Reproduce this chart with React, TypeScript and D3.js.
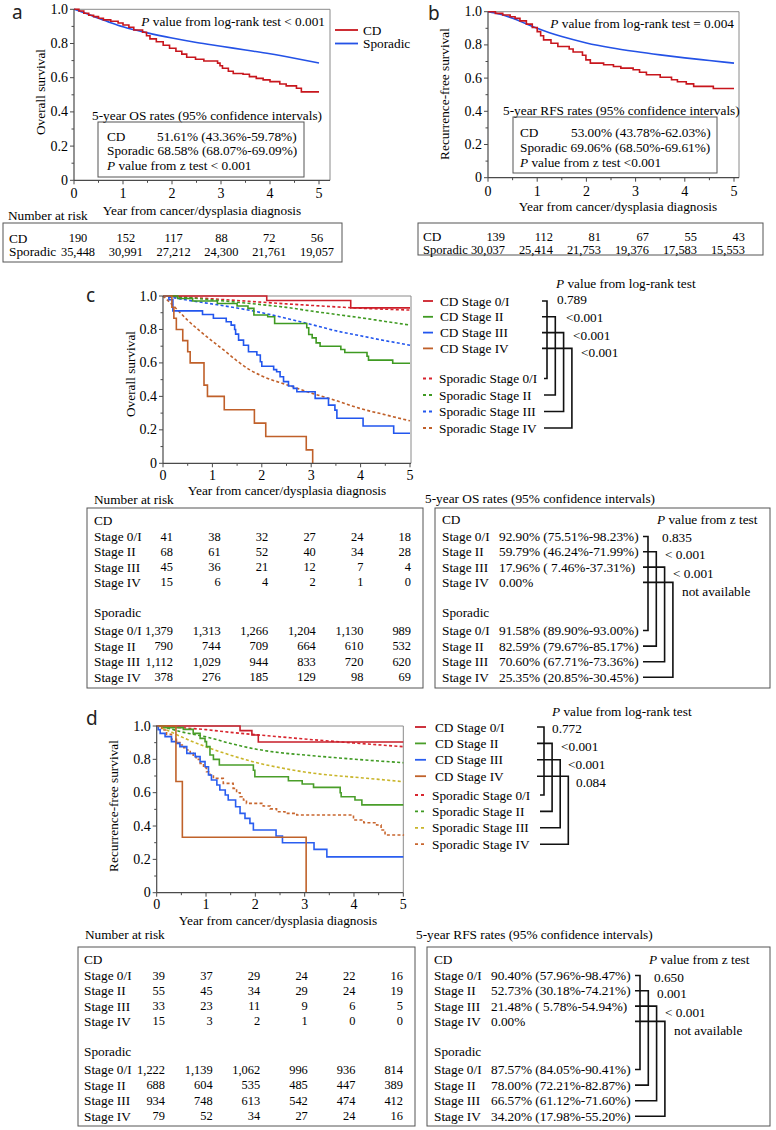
import React from 'react';
import * as d3 from 'd3';

type Pt = [number, number];

// ---------------- axis values ----------------
const years = [0, 1, 2, 3, 4, 5];
const survTicks = [0, 0.2, 0.4, 0.6, 0.8, 1.0];
const survTickLabels = ['0', '0.2', '0.4', '0.6', '0.8', '1.0'];

// ---------------- panel a (overall survival) ----------------
const aCd: Pt[] = [[0, 1], [0.1, 0.99], [0.2, 0.977], [0.3, 0.965], [0.4, 0.957], [0.5, 0.948], [0.6, 0.938], [0.75, 0.93], [0.9, 0.92], [1.0, 0.908], [1.12, 0.895], [1.22, 0.879], [1.4, 0.866], [1.48, 0.845], [1.55, 0.827], [1.68, 0.81], [1.82, 0.79], [1.95, 0.772], [2.08, 0.755], [2.2, 0.738], [2.3, 0.72], [2.48, 0.708], [2.65, 0.698], [2.93, 0.685], [2.98, 0.67], [3.03, 0.655], [3.15, 0.638], [3.25, 0.625], [3.45, 0.62], [3.58, 0.606], [3.72, 0.596], [3.86, 0.587], [4.0, 0.577], [4.2, 0.563], [4.33, 0.552], [4.54, 0.538], [4.64, 0.517], [5, 0.517]];
const aSporadic: Pt[] = [[0, 1], [0.25, 0.975], [0.5, 0.948], [0.75, 0.922], [1, 0.898], [1.5, 0.862], [2, 0.832], [2.5, 0.806], [3, 0.784], [3.5, 0.762], [4, 0.74], [4.5, 0.714], [5, 0.686]];
const aRiskCd = ['190', '152', '117', '88', '72', '56'];
const aRiskSporadic = ['35,448', '30,991', '27,212', '24,300', '21,761', '19,057'];

// ---------------- panel b (recurrence-free survival) ----------------
const bCd: Pt[] = [[0, 1], [0.15, 0.99], [0.3, 0.98], [0.45, 0.97], [0.55, 0.96], [0.65, 0.945], [0.78, 0.925], [0.9, 0.905], [1.0, 0.88], [1.07, 0.855], [1.13, 0.83], [1.28, 0.81], [1.42, 0.79], [1.65, 0.775], [1.73, 0.757], [1.92, 0.738], [1.99, 0.71], [2.08, 0.69], [2.35, 0.68], [2.55, 0.67], [2.7, 0.66], [2.95, 0.65], [3.08, 0.635], [3.22, 0.62], [3.5, 0.605], [3.73, 0.59], [3.85, 0.578], [4.03, 0.565], [4.18, 0.55], [4.58, 0.537], [5, 0.537]];
const bSporadic: Pt[] = [[0, 1], [0.25, 0.985], [0.5, 0.96], [0.75, 0.93], [1, 0.9], [1.25, 0.873], [1.5, 0.85], [2, 0.812], [2.5, 0.783], [3, 0.76], [3.5, 0.74], [4, 0.722], [4.5, 0.706], [5, 0.69]];
const bRiskCd = ['139', '112', '81', '67', '55', '43'];
const bRiskSporadic = ['30,037', '25,414', '21,753', '19,376', '17,583', '15,553'];

// ---------------- panel c (OS by stage) ----------------
const cCd0: Pt[] = [[0, 1], [2.1, 0.973], [3.8, 0.929], [5, 0.929]];
const cCd2: Pt[] = [[0, 1], [0.3, 0.985], [0.6, 0.97], [1.1, 0.955], [1.5, 0.94], [1.72, 0.926], [1.84, 0.886], [2.12, 0.876], [2.26, 0.836], [2.91, 0.81], [2.95, 0.77], [3.02, 0.75], [3.1, 0.72], [3.18, 0.7], [3.6, 0.68], [3.68, 0.662], [4.13, 0.64], [4.16, 0.617], [4.65, 0.598], [5, 0.598]];
const cCd3: Pt[] = [[0, 1], [0.12, 0.978], [0.2, 0.911], [0.8, 0.889], [1.02, 0.867], [1.28, 0.846], [1.38, 0.826], [1.45, 0.8], [1.47, 0.772], [1.53, 0.736], [1.63, 0.706], [1.73, 0.667], [1.9, 0.647], [1.97, 0.607], [2.0, 0.58], [2.24, 0.56], [2.3, 0.547], [2.37, 0.517], [2.44, 0.488], [2.54, 0.462], [2.64, 0.448], [2.71, 0.428], [3.08, 0.388], [3.35, 0.348], [3.48, 0.318], [3.52, 0.269], [4.05, 0.223], [4.67, 0.18], [5, 0.18]];
const cCd4: Pt[] = [[0, 1], [0.18, 0.933], [0.22, 0.867], [0.27, 0.8], [0.4, 0.733], [0.5, 0.667], [0.55, 0.6], [0.83, 0.467], [0.9, 0.4], [1.24, 0.32], [1.85, 0.24], [2.08, 0.16], [2.9, 0.08], [3.03, 0]];
const cSp0: Pt[] = [[0, 1], [0.5, 0.992], [1, 0.983], [1.5, 0.973], [2, 0.963], [2.5, 0.953], [3, 0.944], [3.5, 0.935], [4, 0.927], [4.5, 0.921], [5, 0.916]];
const cSp2: Pt[] = [[0, 1], [0.5, 0.99], [1, 0.977], [1.5, 0.963], [2, 0.948], [2.5, 0.932], [3, 0.91], [3.5, 0.89], [4, 0.87], [4.5, 0.848], [5, 0.826]];
const cSp3: Pt[] = [[0, 1], [0.5, 0.975], [1, 0.952], [1.5, 0.928], [2, 0.9], [2.5, 0.866], [3, 0.83], [3.5, 0.792], [4, 0.762], [4.5, 0.733], [5, 0.706]];
const cSp4: Pt[] = [[0, 1], [0.25, 0.93], [0.5, 0.855], [0.75, 0.79], [1, 0.73], [1.25, 0.672], [1.5, 0.612], [1.75, 0.56], [2, 0.522], [2.5, 0.47], [3, 0.42], [3.5, 0.375], [4, 0.327], [4.5, 0.29], [5, 0.254]];

const stages = ['Stage 0/I', 'Stage II', 'Stage III', 'Stage IV'];
const cRiskCd = [['41', '38', '32', '27', '24', '18'], ['68', '61', '52', '40', '34', '28'], ['45', '36', '21', '12', '7', '4'], ['15', '6', '4', '2', '1', '0']];
const cRiskSp = [['1,379', '1,313', '1,266', '1,204', '1,130', '989'], ['790', '744', '709', '664', '610', '532'], ['1,112', '1,029', '944', '833', '720', '620'], ['378', '276', '185', '129', '98', '69']];
const cRatesCd = ['92.90% (75.51%-98.23%)', '59.79% (46.24%-71.99%)', '17.96% ( 7.46%-37.31%)', '0.00%'];
const cRatesSp = ['91.58% (89.90%-93.00%)', '82.59% (79.67%-85.17%)', '70.60% (67.71%-73.36%)', '25.35% (20.85%-30.45%)'];
const cLogRankP = ['0.789', '<0.001', '<0.001', '<0.001'];
const cZP = ['0.835', '< 0.001', '< 0.001', 'not available'];

// ---------------- panel d (RFS by stage) ----------------
const dCd0: Pt[] = [[0, 1], [1.69, 0.972], [1.93, 0.946], [2.06, 0.904], [5, 0.904]];
const dCd2: Pt[] = [[0, 1], [0.17, 0.99], [0.54, 0.98], [0.74, 0.956], [0.88, 0.926], [0.98, 0.906], [1.01, 0.876], [1.08, 0.826], [1.15, 0.8], [1.27, 0.766], [1.96, 0.735], [1.99, 0.696], [2.67, 0.672], [2.95, 0.652], [3.18, 0.632], [3.72, 0.6], [3.74, 0.576], [4.02, 0.556], [4.16, 0.527], [5, 0.527]];
const dCd3: Pt[] = [[0, 1], [0.03, 0.978], [0.07, 0.956], [0.17, 0.936], [0.3, 0.906], [0.4, 0.896], [0.47, 0.876], [0.61, 0.836], [0.78, 0.816], [0.88, 0.786], [0.98, 0.756], [1.05, 0.706], [1.11, 0.676], [1.22, 0.646], [1.28, 0.616], [1.39, 0.586], [1.45, 0.556], [1.6, 0.516], [1.69, 0.476], [1.79, 0.446], [1.89, 0.416], [1.96, 0.376], [2.42, 0.34], [2.55, 0.3], [3.19, 0.26], [3.45, 0.215], [5, 0.215]];
const dCd4: Pt[] = [[0, 1], [0.39, 0.667], [0.52, 0.333], [3.03, 0]];
const dSp0: Pt[] = [[0, 1], [0.5, 0.99], [1, 0.978], [1.5, 0.962], [2, 0.948], [2.5, 0.935], [3, 0.922], [3.5, 0.91], [4, 0.898], [4.5, 0.887], [5, 0.876]];
const dSp2: Pt[] = [[0, 1], [0.25, 0.985], [0.5, 0.965], [1, 0.935], [1.5, 0.895], [2, 0.862], [2.5, 0.84], [3, 0.826], [3.5, 0.813], [4, 0.801], [4.5, 0.79], [5, 0.78]];
const dSp3: Pt[] = [[0, 1], [0.25, 0.97], [0.5, 0.935], [1, 0.875], [1.5, 0.825], [2, 0.782], [2.5, 0.75], [3, 0.724], [3.5, 0.706], [4, 0.693], [4.5, 0.68], [5, 0.666]];
const dSp4: Pt[] = [[0, 1], [0.1, 0.976], [0.2, 0.95], [0.3, 0.92], [0.4, 0.9], [0.47, 0.886], [0.55, 0.87], [0.61, 0.856], [0.68, 0.836], [0.74, 0.816], [0.8, 0.8], [0.88, 0.776], [0.95, 0.75], [1.01, 0.726], [1.08, 0.706], [1.15, 0.686], [1.35, 0.656], [1.55, 0.626], [1.62, 0.6], [1.69, 0.576], [1.76, 0.556], [1.82, 0.536], [2.16, 0.52], [2.3, 0.503], [2.43, 0.486], [2.6, 0.476], [2.84, 0.466], [3.99, 0.436], [4.2, 0.42], [4.46, 0.406], [4.55, 0.376], [4.63, 0.346], [5, 0.342]];

const dRiskCd = [['39', '37', '29', '24', '22', '16'], ['55', '45', '34', '29', '24', '19'], ['33', '23', '11', '9', '6', '5'], ['15', '3', '2', '1', '0', '0']];
const dRiskSp = [['1,222', '1,139', '1,062', '996', '936', '814'], ['688', '604', '535', '485', '447', '389'], ['934', '748', '613', '542', '474', '412'], ['79', '52', '34', '27', '24', '16']];
const dRatesCd = ['90.40% (57.96%-98.47%)', '52.73% (30.18%-74.21%)', '21.48% ( 5.78%-54.94%)', '0.00%'];
const dRatesSp = ['87.57% (84.05%-90.41%)', '78.00% (72.21%-82.87%)', '66.57% (61.12%-71.60%)', '34.20% (17.98%-55.20%)'];
const dLogRankP = ['0.772', '<0.001', '<0.001', '0.084'];
const dZP = ['0.650', '0.001', '< 0.001', 'not available'];

// ---------------- styles ----------------
const FONT = '"Liberation Serif", "Times New Roman", Times, serif';
const SANS = '"Noto Sans", "DejaVu Sans", sans-serif';
const FS = 13.3;
const TICKFS = 14;
const NUMFS = 12.4;
const RED = '#c8161d';
const BLUE = '#2452e6';
const cCdColors = ['#cc1f2a', '#3f9a22', '#2256ee', '#c0602a'];
const cSpColors = ['#d8232d', '#3f9a22', '#2256ee', '#c0602a'];
const dCdColors = ['#c81e2a', '#4a9e2a', '#2a5ef0', '#c0622a'];
const dSpColors = ['#d8262f', '#3f9a22', '#c9b52a', '#c8662e'];
const AX = '#4a4a4a';

interface Curve { data: Pt[]; color: string; dashed?: boolean; smooth?: boolean; }

interface PlotProps {
  x0: number; x5: number; xEnd: number; yBot: number; yTop: number;
  curves: Curve[]; yTitle: string; yTitleX: number; yTitleY: number;
  xTitleX: number; xTitleY: number; xLabelDy: number;
}

function KMPlot(p: PlotProps) {
  const x = d3.scaleLinear().domain([0, 5]).range([p.x0, p.x5]);
  const y = d3.scaleLinear().domain([0, 1]).range([p.yBot, p.yTop]);
  const step = d3.line<Pt>().x(d => x(d[0])).y(d => y(d[1])).curve(d3.curveStepAfter);
  const smooth = d3.line<Pt>().x(d => x(d[0])).y(d => y(d[1])).curve(d3.curveMonotoneX);
  const minorX = [0.5, 1.5, 2.5, 3.5, 4.5];
  const minorY = [0.1, 0.3, 0.5, 0.7, 0.9];
  return (
    <g>
      <path d={`M${p.x0},${p.yTop}H${p.xEnd}V${p.yBot}`} fill="none" stroke="#8a8a8a" strokeWidth={1} />
      {p.curves.map((c, i) => (
        <path key={i} d={(c.smooth ? smooth : step)(c.data) || ''} fill="none" stroke={c.color}
          strokeWidth={1.6} strokeDasharray={c.dashed ? '3,2.3' : undefined} />
      ))}
      <line x1={p.x0} x2={p.xEnd} y1={p.yBot} y2={p.yBot} stroke={AX} strokeWidth={1.2} />
      <line x1={p.x0} x2={p.x0} y1={p.yTop} y2={p.yBot} stroke={AX} strokeWidth={1.2} />
      {years.map(t => <line key={'xt' + t} x1={x(t)} x2={x(t)} y1={p.yBot} y2={p.yBot + 4} stroke={AX} />)}
      {minorX.map(t => <line key={'xm' + t} x1={x(t)} x2={x(t)} y1={p.yBot} y2={p.yBot + 2.5} stroke={AX} />)}
      {survTicks.map(v => <line key={'yt' + v} x1={p.x0 - 4} x2={p.x0} y1={y(v)} y2={y(v)} stroke={AX} />)}
      {minorY.map(v => <line key={'ym' + v} x1={p.x0 - 2.5} x2={p.x0} y1={y(v)} y2={y(v)} stroke={AX} />)}
      {years.map(t => (
        <text key={'xl' + t} x={x(t)} y={p.yBot + p.xLabelDy} fontSize={TICKFS} textAnchor="middle" dominantBaseline="central">{t}</text>
      ))}
      {survTicks.map((v, i) => (
        <text key={'yl' + v} x={p.x0 - 6} y={y(v)} fontSize={TICKFS} textAnchor="end" dominantBaseline="central">{survTickLabels[i]}</text>
      ))}
      <text transform={`translate(${p.yTitleX},${p.yTitleY}) rotate(-90)`} textAnchor="middle" dominantBaseline="central">{p.yTitle}</text>
      <text x={p.xTitleX} y={p.xTitleY} textAnchor="middle" dominantBaseline="central">Year from cancer/dysplasia diagnosis</text>
    </g>
  );
}

interface LegendProps {
  titleX: number; titleY: number; markX: number; markLen: number; cdTextX: number; spTextX: number;
  cdY0: number; cdStep: number; spY0: number; spStep: number;
  cdColors: string[]; spColors: string[]; vx0: number; vStep: number; cdHStart: number; spHStart: number;
  pX: number[]; pY: number[]; pvals: string[];
}

function StageLegend(p: LegendProps) {
  const cdY = stages.map((_, i) => p.cdY0 + i * p.cdStep);
  const spY = stages.map((_, i) => p.spY0 + i * p.spStep);
  const vx = stages.map((_, i) => p.vx0 + i * p.vStep);
  return (
    <g>
      <text x={p.titleX} y={p.titleY} dominantBaseline="central"><tspan fontStyle="italic">P</tspan> value from log-rank test</text>
      {stages.map((s, i) => (
        <g key={s}>
          <line x1={p.markX} x2={p.markX + p.markLen} y1={cdY[i]} y2={cdY[i]} stroke={p.cdColors[i]} strokeWidth={1.8} />
          <text x={p.cdTextX} y={cdY[i]} dominantBaseline="central">CD {s}</text>
          <line x1={p.markX} x2={p.markX + p.markLen} y1={spY[i]} y2={spY[i]} stroke={p.spColors[i]} strokeWidth={1.8} strokeDasharray="3,3" />
          <text x={p.spTextX} y={spY[i]} dominantBaseline="central">Sporadic {s}</text>
          <path d={`M${p.cdHStart},${cdY[i]}H${vx[i]}V${spY[i]}H${p.spHStart}`} fill="none" stroke="#111" strokeWidth={1.6} />
          <text x={p.pX[i]} y={p.pY[i]} dominantBaseline="central">{p.pvals[i]}</text>
        </g>
      ))}
    </g>
  );
}

interface RiskProps {
  box: [number, number, number, number]; textX: number; colRange: [number, number];
  headerY: number; cdY0: number; cdStep: number; spHeaderY: number; spY0: number; spStep: number;
  cd: string[][]; sp: string[][];
}

function StageRiskTable(p: RiskProps) {
  const col = d3.scaleLinear().domain([0, 5]).range(p.colRange);
  const [l, t, r, b] = p.box;
  return (
    <g>
      <rect x={l} y={t} width={r - l} height={b - t} fill="none" stroke="#555" strokeWidth={1} />
      <text x={p.textX} y={p.headerY} dominantBaseline="central">CD</text>
      <text x={p.textX} y={p.spHeaderY} dominantBaseline="central">Sporadic</text>
      {stages.map((s, i) => {
        const yc = p.cdY0 + i * p.cdStep;
        const ys = p.spY0 + i * p.spStep;
        return (
          <g key={s}>
            <text x={p.textX} y={yc} dominantBaseline="central">{s}</text>
            <text x={p.textX} y={ys} dominantBaseline="central">{s}</text>
            {years.map(k => <text key={'c' + k} x={col(k)} y={yc} fontSize={NUMFS} textAnchor="end" dominantBaseline="central">{p.cd[i][k]}</text>)}
            {years.map(k => <text key={'s' + k} x={col(k)} y={ys} fontSize={NUMFS} textAnchor="end" dominantBaseline="central">{p.sp[i][k]}</text>)}
          </g>
        );
      })}
    </g>
  );
}

interface RateProps {
  box: [number, number, number, number]; textX: number; valX: number; pHeadX: number;
  headerY: number; cdY0: number; cdStep: number; spHeaderY: number; spY0: number; spStep: number;
  cd: string[]; sp: string[]; hStart: number; vx0: number; vStep: number; pX: number[]; pY: number[]; pvals: string[];
}

function StageRateTable(p: RateProps) {
  const [l, t, r, b] = p.box;
  return (
    <g>
      <rect x={l} y={t} width={r - l} height={b - t} fill="none" stroke="#555" strokeWidth={1} />
      <text x={p.textX} y={p.headerY} dominantBaseline="central">CD</text>
      <text x={p.pHeadX} y={p.headerY} dominantBaseline="central"><tspan fontStyle="italic">P</tspan> value from z test</text>
      <text x={p.textX} y={p.spHeaderY} dominantBaseline="central">Sporadic</text>
      {stages.map((s, i) => {
        const yc = p.cdY0 + i * p.cdStep;
        const ys = p.spY0 + i * p.spStep;
        const vx = p.vx0 + i * p.vStep;
        return (
          <g key={s}>
            <text x={p.textX} y={yc} dominantBaseline="central">{s}</text>
            <text x={p.valX} y={yc} dominantBaseline="central">{p.cd[i]}</text>
            <text x={p.textX} y={ys} dominantBaseline="central">{s}</text>
            <text x={p.valX} y={ys} dominantBaseline="central">{p.sp[i]}</text>
            <path d={`M${p.hStart},${yc}H${vx}V${ys}H${p.hStart}`} fill="none" stroke="#111" strokeWidth={1.6} />
            <text x={p.pX[i]} y={p.pY[i]} dominantBaseline="central">{p.pvals[i]}</text>
          </g>
        );
      })}
    </g>
  );
}

export default function App() {
  const aCol = d3.scaleLinear().domain([0, 5]).range([78, 317]);
  const bCol = d3.scaleLinear().domain([0, 5]).range([505, 745]);
  return (
    <svg width={776} height={1130} viewBox="0 0 776 1130"
      style={{ position: 'absolute', left: 0, top: 0, background: '#fff', fontFamily: FONT, fontSize: FS, whiteSpace: 'pre' }}>
      <rect x={0} y={0} width={776} height={1130} fill="#fff" />

      {/* ---------------- panel a ---------------- */}
      <text x={12} y={19} fontFamily={SANS} fontSize={19} fill="#222">a</text>
      <KMPlot x0={74} x5={319} xEnd={330} yBot={180.3} yTop={9.3}
        curves={[{ data: aSporadic, color: BLUE, smooth: true }, { data: aCd, color: RED }]}
        yTitle="Overall survival" yTitleX={40} yTitleY={92} xTitleX={202} xTitleY={210} xLabelDy={13} />
      <text x={325} y={21} textAnchor="end" dominantBaseline="central"><tspan fontStyle="italic">P</tspan> value from log-rank test &lt; 0.001</text>
      <line x1={335} x2={358} y1={30} y2={30} stroke={RED} strokeWidth={1.8} />
      <text x={363} y={30} dominantBaseline="central">CD</text>
      <line x1={335} x2={358} y1={43.5} y2={43.5} stroke={BLUE} strokeWidth={1.8} />
      <text x={363} y={43.5} dominantBaseline="central">Sporadic</text>
      <text x={92} y={115} dominantBaseline="central">5-year OS rates (95% confidence intervals)</text>
      <rect x={98} y={122} width={206} height={55} fill="none" stroke="#555" />
      <text x={107} y={136} dominantBaseline="central">CD</text>
      <text x={157} y={136} dominantBaseline="central">51.61% (43.36%-59.78%)</text>
      <text x={107} y={150.5} dominantBaseline="central">Sporadic 68.58% (68.07%-69.09%)</text>
      <text x={107} y={165} dominantBaseline="central"><tspan fontStyle="italic">P</tspan> value from z test &lt; 0.001</text>
      <text x={8} y={215} dominantBaseline="central">Number at risk</text>
      <rect x={3} y={223} width={339} height={39} fill="none" stroke="#555" />
      <text x={9} y={238} dominantBaseline="central">CD</text>
      <text x={9} y={251.5} dominantBaseline="central">Sporadic</text>
      {years.map(k => <text key={'ac' + k} x={aCol(k)} y={238} fontSize={NUMFS} textAnchor="middle" dominantBaseline="central">{aRiskCd[k]}</text>)}
      {years.map(k => <text key={'as' + k} x={aCol(k)} y={251.5} fontSize={NUMFS} textAnchor="middle" dominantBaseline="central">{aRiskSporadic[k]}</text>)}

      {/* ---------------- panel b ---------------- */}
      <text x={428} y={20} fontFamily={SANS} fontSize={19} fill="#222">b</text>
      <KMPlot x0={488} x5={734} xEnd={739} yBot={177.7} yTop={11.7}
        curves={[{ data: bSporadic, color: BLUE, smooth: true }, { data: bCd, color: RED }]}
        yTitle="Recurrence-free survival" yTitleX={444} yTitleY={94} xTitleX={618} xTitleY={206} xLabelDy={14} />
      <text x={734} y={23} textAnchor="end" dominantBaseline="central"><tspan fontStyle="italic">P</tspan> value from log-rank test = 0.004</text>
      <text x={503} y={110} dominantBaseline="central">5-year RFS rates (95% confidence intervals)</text>
      <rect x={513} y={117} width={204} height={56} fill="none" stroke="#555" />
      <text x={520} y={132} dominantBaseline="central">CD</text>
      <text x={571} y={132} dominantBaseline="central">53.00% (43.78%-62.03%)</text>
      <text x={520} y={147} dominantBaseline="central">Sporadic 69.06% (68.50%-69.61%)</text>
      <text x={520} y={162} dominantBaseline="central"><tspan fontStyle="italic">P</tspan> value from z test  &lt;0.001</text>
      <rect x={418} y={223} width={345} height={32} fill="none" stroke="#555" />
      <text x={423} y={236.7} dominantBaseline="central">CD</text>
      <text x={423} y={250} fontSize={12.6} dominantBaseline="central">Sporadic</text>
      {years.map(k => <text key={'bc' + k} x={bCol(k)} y={236.7} fontSize={NUMFS} textAnchor="end" dominantBaseline="central">{bRiskCd[k]}</text>)}
      {years.map(k => <text key={'bs' + k} x={bCol(k)} y={250} fontSize={NUMFS} textAnchor="end" dominantBaseline="central">{bRiskSporadic[k]}</text>)}

      {/* ---------------- panel c ---------------- */}
      <text x={86} y={302} fontFamily={SANS} fontSize={19} fill="#222">c</text>
      <KMPlot x0={163} x5={410} xEnd={411} yBot={463.3} yTop={296}
        curves={[
          { data: cSp0, color: cSpColors[0], dashed: true, smooth: true },
          { data: cSp2, color: cSpColors[1], dashed: true, smooth: true },
          { data: cSp3, color: cSpColors[2], dashed: true, smooth: true },
          { data: cSp4, color: cSpColors[3], dashed: true, smooth: true },
          { data: cCd0, color: cCdColors[0] },
          { data: cCd2, color: cCdColors[1] },
          { data: cCd3, color: cCdColors[2] },
          { data: cCd4, color: cCdColors[3] },
        ]}
        yTitle="Overall survival" yTitleX={130} yTitleY={374} xTitleX={287} xTitleY={490} xLabelDy={12} />
      <StageLegend titleX={556} titleY={283} markX={423} markLen={10} cdTextX={440} spTextX={439}
        cdY0={301} cdStep={15.8} spY0={378.5} spStep={16.5} cdColors={cCdColors} spColors={cSpColors}
        vx0={547} vStep={8.3} cdHStart={542} spHStart={544}
        pX={[557, 566, 573, 581]} pY={[299, 317, 335, 352]} pvals={cLogRankP} />
      <text x={94} y={499} dominantBaseline="central">Number at risk</text>
      <StageRiskTable box={[87, 508, 423, 688]} textX={94} colRange={[173, 411]}
        headerY={520} cdY0={536.5} cdStep={15.3} spHeaderY={612} spY0={630.5} spStep={15.6}
        cd={cRiskCd} sp={cRiskSp} />
      <text x={425} y={498} dominantBaseline="central">5-year OS rates (95% confidence intervals)</text>
      <StageRateTable box={[435, 508, 770, 688]} textX={442} valX={499} pHeadX={657}
        headerY={519} cdY0={536.5} cdStep={15.3} spHeaderY={612} spY0={630.5} spStep={15.6}
        cd={cRatesCd} sp={cRatesSp} hStart={643} vx0={648} vStep={8.3}
        pX={[662, 665, 673, 682]} pY={[537, 554, 573, 591]} pvals={cZP} />

      {/* ---------------- panel d ---------------- */}
      <text x={86} y={725} fontFamily={SANS} fontSize={19} fill="#222">d</text>
      <KMPlot x0={156.7} x5={403.3} xEnd={403.3} yBot={892.7} yTop={726}
        curves={[
          { data: dSp0, color: dSpColors[0], dashed: true, smooth: true },
          { data: dSp2, color: dSpColors[1], dashed: true, smooth: true },
          { data: dSp3, color: dSpColors[2], dashed: true, smooth: true },
          { data: dSp4, color: dSpColors[3], dashed: true },
          { data: dCd0, color: dCdColors[0] },
          { data: dCd2, color: dCdColors[1] },
          { data: dCd3, color: dCdColors[2] },
          { data: dCd4, color: dCdColors[3] },
        ]}
        yTitle="Recurrence-free survival" yTitleX={113} yTitleY={806} xTitleX={278} xTitleY={920} xLabelDy={11.5} />
      <StageLegend titleX={552} titleY={711} markX={415} markLen={11} cdTextX={435} spTextX={432}
        cdY0={727} cdStep={16.4} spY0={795} spStep={16.4} cdColors={dCdColors} spColors={dSpColors}
        vx0={544} vStep={8.1} cdHStart={537} spHStart={540}
        pX={[552, 561, 568, 576]} pY={[728, 746, 764, 782]} pvals={dLogRankP} />
      <text x={85} y={934} dominantBaseline="central">Number at risk</text>
      <StageRiskTable box={[78, 947, 415, 1126]} textX={84} colRange={[165, 403]}
        headerY={959} cdY0={975.5} cdStep={15.3} spHeaderY={1051} spY0={1069.5} spStep={15.6}
        cd={dRiskCd} sp={dRiskSp} />
      <text x={416} y={934} dominantBaseline="central">5-year RFS rates (95% confidence intervals)</text>
      <StageRateTable box={[427, 947, 770, 1126]} textX={434} valX={491} pHeadX={649}
        headerY={959} cdY0={975.5} cdStep={15.3} spHeaderY={1051} spY0={1069.5} spStep={15.6}
        cd={dRatesCd} sp={dRatesSp} hStart={635} vx0={640} vStep={8.3}
        pX={[654, 657, 665, 674]} pY={[977, 993, 1012, 1030]} pvals={dZP} />
    </svg>
  );
}
